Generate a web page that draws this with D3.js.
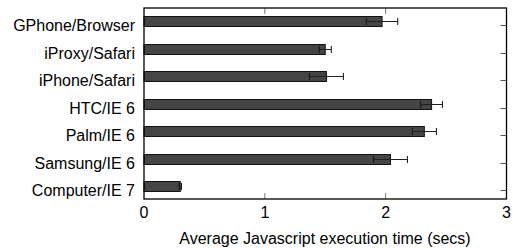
<!DOCTYPE html>
<html>
<head>
<meta charset="utf-8">
<script src="https://cdnjs.cloudflare.com/ajax/libs/d3/7.8.5/d3.min.js"></script>
<style>
  body { margin: 0; background: #fff; }
  text { font-family: "Liberation Sans", Arial, Helvetica, sans-serif; fill: #000; }
</style>
</head>
<body>
<div id="main"></div>
<script>
// data
var categories = ["GPhone/Browser", "iProxy/Safari", "iPhone/Safari", "HTC/IE 6", "Palm/IE 6", "Samsung/IE 6", "Computer/IE 7"];
var means = [1.97, 1.50, 1.51, 2.38, 2.32, 2.04, 0.30];
var errs = [0.13, 0.05, 0.14, 0.09, 0.10, 0.14, 0.01];
var xTicks = [0, 1, 2, 3];

var W = 513, H = 248;
var plot = {left: 144, right: 506.5, top: 8, bottom: 199};

var svg = d3.select("#main").append("svg")
    .attr("width", W)
    .attr("height", H);

var xScale = d3.scaleLinear()
    .domain([0, 3])
    .range([plot.left, plot.right]);

// category tick positions (gnuplot style, bars sit just above each tic)
var yScale = d3.scalePoint()
    .domain(categories)
    .range([25, 190]);

var data = categories.map(function(c, i) { return {cat: c, v: means[i], e: errs[i]}; });

// inward ticks, top and bottom
var tickLen = 6;
svg.selectAll(".xtick-b")
    .data(xTicks.slice(1, -1))
    .enter().append("line")
    .attr("x1", function(d) { return xScale(d); })
    .attr("x2", function(d) { return xScale(d); })
    .attr("y1", plot.bottom)
    .attr("y2", plot.bottom - tickLen)
    .attr("stroke", "#777")
    .attr("stroke-width", 1);
svg.selectAll(".xtick-t")
    .data(xTicks.slice(1, -1))
    .enter().append("line")
    .attr("x1", function(d) { return xScale(d); })
    .attr("x2", function(d) { return xScale(d); })
    .attr("y1", plot.top)
    .attr("y2", plot.top + tickLen)
    .attr("stroke", "#777")
    .attr("stroke-width", 1);

// right side category ticks
svg.selectAll(".ytick")
    .data(categories)
    .enter().append("line")
    .attr("x1", plot.right)
    .attr("x2", plot.right - tickLen)
    .attr("y1", function(d) { return Math.round(yScale(d)) + 0.5; })
    .attr("y2", function(d) { return Math.round(yScale(d)) + 0.5; })
    .attr("stroke", "#555")
    .attr("stroke-width", 1);

// bars
var barTop = -8.5, barH = 10;
svg.selectAll(".bar")
    .data(data)
    .enter().append("rect")
    .attr("class", "bar")
    .attr("x", xScale(0))
    .attr("y", function(d) { return Math.round(yScale(d.cat)) + barTop; })
    .attr("width", function(d) { return xScale(d.v) - xScale(0); })
    .attr("height", barH)
    .attr("fill", "#454545")
    .attr("stroke", "#111")
    .attr("stroke-width", 1);

// error bars
var eb = svg.selectAll(".err")
    .data(data)
    .enter().append("g")
    .attr("class", "err")
    .attr("transform", function(d) { return "translate(0," + (Math.round(yScale(d.cat)) - 3.5) + ")"; });
eb.append("line")
    .attr("x1", function(d) { return xScale(d.v - d.e); })
    .attr("x2", function(d) { return xScale(d.v + d.e); })
    .attr("y1", 0).attr("y2", 0)
    .attr("stroke", "#222").attr("stroke-width", 1);
eb.append("line")
    .attr("x1", function(d) { return xScale(d.v - d.e); })
    .attr("x2", function(d) { return xScale(d.v - d.e); })
    .attr("y1", -3.5).attr("y2", 3.5)
    .attr("stroke", "#111").attr("stroke-width", 1);
eb.append("line")
    .attr("x1", function(d) { return xScale(d.v + d.e); })
    .attr("x2", function(d) { return xScale(d.v + d.e); })
    .attr("y1", -3.5).attr("y2", 3.5)
    .attr("stroke", "#111").attr("stroke-width", 1);

// frame
svg.append("rect")
    .attr("x", plot.left)
    .attr("y", plot.top)
    .attr("width", plot.right - plot.left)
    .attr("height", plot.bottom - plot.top)
    .attr("fill", "none")
    .attr("stroke", "#000")
    .attr("stroke-width", 1.3);

// category labels
svg.selectAll(".ylabel")
    .data(categories)
    .enter().append("text")
    .attr("x", plot.left - 9)
    .attr("y", function(d) { return yScale(d) + 6; })
    .style("text-anchor", "end")
    .style("font-size", "16px")
    .text(function(d) { return d; });

// x tick labels
svg.selectAll(".xlabel")
    .data(xTicks)
    .enter().append("text")
    .attr("x", function(d) { return xScale(d); })
    .attr("y", 218)
    .style("text-anchor", "middle")
    .style("font-size", "16px")
    .text(function(d) { return d; });

// axis title
svg.append("text")
    .attr("x", (183 + 467) / 2)
    .attr("y", 244)
    .style("text-anchor", "middle")
    .style("font-size", "16px")
    .text("Average Javascript execution time (secs)");
</script>
</body>
</html>
